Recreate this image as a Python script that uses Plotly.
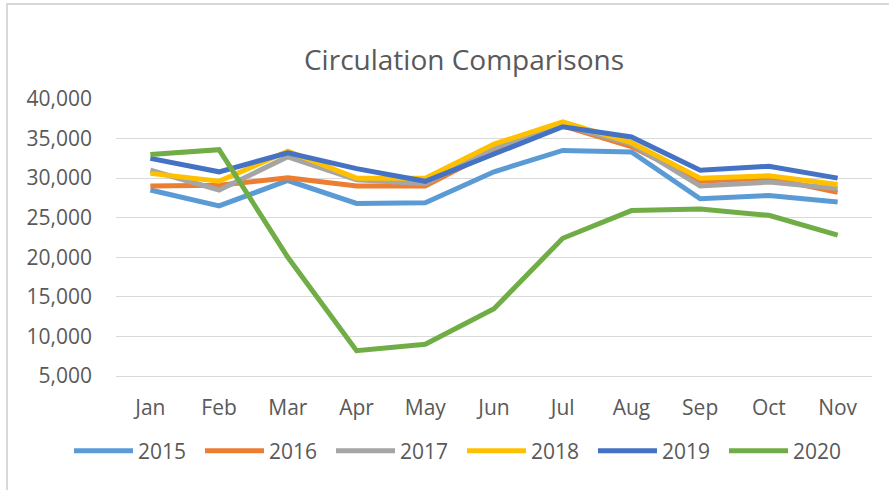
import plotly.graph_objects as go

months = ["Jan", "Feb", "Mar", "Apr", "May", "Jun", "Jul", "Aug", "Sep", "Oct", "Nov"]
y2015 = [28500, 26500, 29700, 26800, 26900, 30800, 33500, 33300, 27400, 27800, 27000]
y2016 = [29000, 29100, 30050, 29000, 29000, 33500, 36600, 34000, 29600, 30000, 28200]
y2017 = [31000, 28500, 32700, 29800, 29300, 33800, 36700, 34300, 29000, 29500, 28700]
y2018 = [30600, 29600, 33400, 30000, 30000, 34300, 37100, 34500, 30000, 30300, 29200]
y2019 = [32500, 30800, 33200, 31200, 29600, 33000, 36500, 35200, 31000, 31500, 30000]
y2020 = [33000, 33600, 20000, 8200, 9000, 13500, 22400, 25900, 26100, 25300, 22800]

series = [
    ("2015", y2015, "#5B9BD5"),
    ("2016", y2016, "#ED7D31"),
    ("2017", y2017, "#A5A5A5"),
    ("2018", y2018, "#FFC000"),
    ("2019", y2019, "#4472C4"),
    ("2020", y2020, "#70AD47"),
]

FONT = "Open Sans"
TXT = "#595959"

fig = go.Figure()
for name, vals, col in series:
    fig.add_trace(go.Scatter(x=months, y=vals, name=name, mode="lines",
                             line=dict(color=col, width=5)))

fig.update_layout(
    width=889, height=490,
    paper_bgcolor="white", plot_bgcolor="white",
    margin=dict(l=116, r=17, t=99, b=114),
    font=dict(family=FONT, color=TXT, size=21),
    title=dict(text="Circulation Comparisons", x=(464 - 116) / 756, xref="paper",
               xanchor="center", y=1 - 60 / 490, yanchor="middle",
               font=dict(family=FONT, size=28, color=TXT)),
    xaxis=dict(type="category", range=[-0.5, 10.5], showgrid=False,
               showline=True, linecolor="#d9d9d9", linewidth=1,
               ticks="", ticklabelstandoff=13,
               tickfont=dict(size=21, color=TXT)),
    yaxis=dict(range=[5000, 40000], dtick=5000, tickformat=",",
               showgrid=True, gridcolor="#d9d9d9", gridwidth=1,
               zeroline=False, showline=False, ticks="", ticklabelstandoff=23,
               tickfont=dict(size=21, color=TXT)),
    legend=dict(orientation="h", x=(69 - 116) / 756, xanchor="left",
                y=(376 - 451) / 277, yanchor="middle",
                font=dict(size=21, color=TXT), itemwidth=59,
                entrywidth=57, entrywidthmode="pixels"),
    shapes=[dict(type="rect", xref="paper", yref="paper",
                 x0=(7 - 116) / 756, x1=(920 - 116) / 756,
                 y0=(376 - 520) / 277, y1=(376 - 4) / 277,
                 line=dict(color="#d9d9d9", width=2), fillcolor="rgba(0,0,0,0)",
                 layer="below")],
)

fig.write_html("out.html", config={"displayModeBar": False},
               post_script="document.body.style.margin='0';")
